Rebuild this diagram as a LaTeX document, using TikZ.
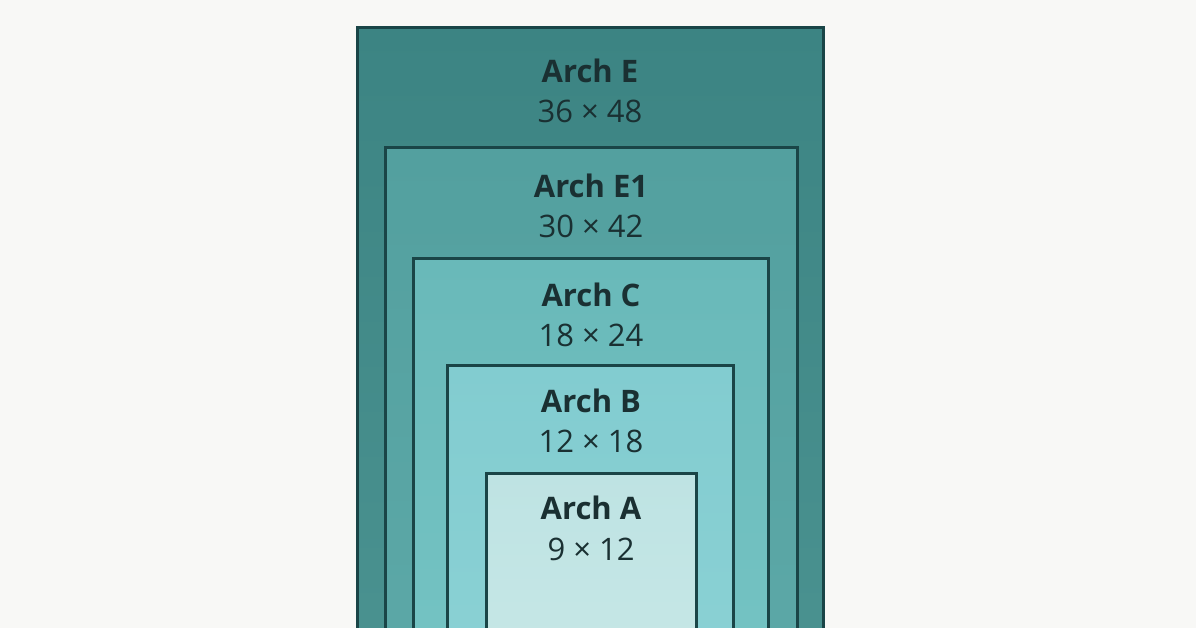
\documentclass[tikz,border=0pt]{standalone}
\usepackage{fontspec}
\setmainfont{Open Sans}
\definecolor{bg}{HTML}{F8F8F6}
\definecolor{edge}{HTML}{1A4547}
\definecolor{txt}{HTML}{1A3032}
\definecolor{eTop}{HTML}{3C8483}
\definecolor{eBot}{HTML}{4A9290}
\definecolor{eoTop}{HTML}{53A09F}
\definecolor{eoBot}{HTML}{5CA8A7}
\definecolor{cTop}{HTML}{69B9B9}
\definecolor{cBot}{HTML}{74C3C3}
\definecolor{bTop}{HTML}{82CCD0}
\definecolor{bBot}{HTML}{8AD1D4}
\definecolor{aTop}{HTML}{BEE3E3}
\definecolor{aBot}{HTML}{C6E7E6}
\begin{document}
\begin{tikzpicture}[x=1pt,y=-1pt,
  archbox/.style={draw=edge, line width=3pt},
  lab/.style={text=txt, font=\fontsize{31}{36}\selectfont\bfseries, inner sep=0pt},
  dimtext/.style={text=txt, font=\fontsize{31}{36}\selectfont, inner sep=0pt}]
\useasboundingbox (0,0) rectangle (1196,628);
\fill[bg] (0,0) rectangle (1196,628);
\clip (0,0) rectangle (1196,628);
\draw[archbox, top color=eTop, bottom color=eBot] (357,28) rectangle (823,660);
\draw[archbox, top color=eoTop, bottom color=eoBot] (385,148) rectangle (797,660);
\draw[archbox, top color=cTop, bottom color=cBot] (413,259) rectangle (768,660);
\draw[archbox, top color=bTop, bottom color=bBot] (447,365) rectangle (733,660);
\draw[archbox, top color=aTop, bottom color=aBot] (486,473) rectangle (696,660);
\node[lab] (eL) at (590,71) {Arch E};
\node[dimtext] (eD) at (590,111) {36 × 48};
\node[lab] (e1L) at (591,186) {Arch E1};
\node[dimtext] (e1D) at (591,226) {30 × 42};
\node[lab] (cL) at (591,295) {Arch C};
\node[dimtext] (cD) at (591,335) {18 × 24};
\node[lab] (bL) at (591,401) {Arch B};
\node[dimtext] (bD) at (591,441) {12 × 18};
\node[lab] (aL) at (591,508) {Arch A};
\node[dimtext] (aD) at (591,549) {9 × 12};
\end{tikzpicture}
\end{document}
